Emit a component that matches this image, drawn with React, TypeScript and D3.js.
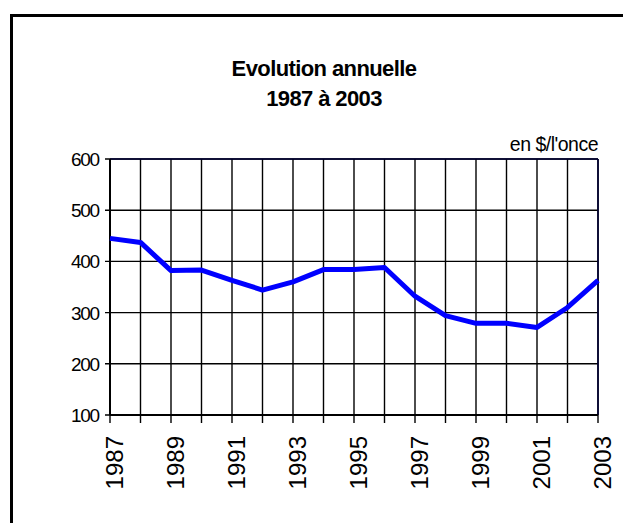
import React, { useEffect, useRef } from 'react';
import * as d3 from 'd3';

const years = [1987, 1988, 1989, 1990, 1991, 1992, 1993, 1994, 1995, 1996, 1997, 1998, 1999, 2000, 2001, 2002, 2003];
const prices = [445, 437, 382, 383, 363, 344, 360, 384, 384, 388, 332, 294, 279, 279, 271, 310, 363];
const yTicks = [100, 200, 300, 400, 500, 600];
const yearLabels = [1987, 1989, 1991, 1993, 1995, 1997, 1999, 2001, 2003];
const titleLines = ['Evolution annuelle', '1987 à 2003'];
const unitLabel = "en $/l'once";

const W = 623;
const H = 523;

const App = () => {
  const svgRef = useRef<SVGSVGElement>(null);

  useEffect(() => {
    const svg = d3.select(svgRef.current);
    svg.selectAll('*').remove();

    const left = 110;
    const right = 598;
    const top = 159;
    const bottom = 415;
    const font = 'Arial, "Liberation Sans", sans-serif';

    // outer frame (runs off the right and bottom edge)
    svg
      .append('rect')
      .attr('x', 11.5)
      .attr('y', 15.5)
      .attr('width', 700)
      .attr('height', 700)
      .attr('fill', 'none')
      .attr('stroke', '#000')
      .attr('stroke-width', 3);

    const x = d3.scaleLinear().domain([years[0], years[years.length - 1]]).range([left, right]);
    const y = d3.scaleLinear().domain([100, 600]).range([bottom, top]);

    // vertical grid
    svg
      .append('g')
      .selectAll('line')
      .data(years)
      .join('line')
      .attr('x1', (d) => x(d))
      .attr('x2', (d) => x(d))
      .attr('y1', top)
      .attr('y2', bottom + 8)
      .attr('stroke', '#000')
      .attr('stroke-width', 1.4);

    // horizontal grid
    svg
      .append('g')
      .selectAll('line')
      .data(yTicks)
      .join('line')
      .attr('x1', left - 5)
      .attr('x2', right)
      .attr('y1', (d) => y(d))
      .attr('y2', (d) => y(d))
      .attr('stroke', '#000')
      .attr('stroke-width', 1.4);

    // plot border
    svg
      .append('line')
      .attr('x1', left)
      .attr('x2', right)
      .attr('y1', top)
      .attr('y2', top)
      .attr('stroke', '#000033')
      .attr('stroke-width', 1.6);
    svg
      .append('line')
      .attr('x1', right)
      .attr('x2', right)
      .attr('y1', top)
      .attr('y2', bottom)
      .attr('stroke', '#000033')
      .attr('stroke-width', 1.6);

    // axes
    svg
      .append('line')
      .attr('x1', left)
      .attr('x2', left)
      .attr('y1', top)
      .attr('y2', bottom)
      .attr('stroke', '#000')
      .attr('stroke-width', 2);
    svg
      .append('line')
      .attr('x1', left)
      .attr('x2', right)
      .attr('y1', bottom)
      .attr('y2', bottom)
      .attr('stroke', '#000')
      .attr('stroke-width', 2.2);

    // y labels
    svg
      .append('g')
      .selectAll('text')
      .data(yTicks)
      .join('text')
      .attr('x', 99)
      .attr('y', (d) => y(d) + 7)
      .attr('text-anchor', 'end')
      .style('font-family', font)
      .style('font-size', '19px')
      .style('letter-spacing', '-1.2px')
      .text((d) => d);

    // x labels
    svg
      .append('g')
      .selectAll('text')
      .data(yearLabels)
      .join('text')
      .attr('transform', (d) => `translate(${x(d)},436) rotate(-90)`)
      .attr('y', 13)
      .attr('text-anchor', 'end')
      .style('font-family', font)
      .style('font-size', '24px')
      .text((d) => d);

    // price line
    const line = d3
      .line<number>()
      .x((d, i) => x(years[i]))
      .y((d) => y(d));
    svg
      .append('path')
      .datum(prices)
      .attr('d', line)
      .attr('fill', 'none')
      .attr('stroke', '#0000ff')
      .attr('stroke-width', 5)
      .attr('stroke-linejoin', 'round');

    // title
    svg
      .append('g')
      .selectAll('text')
      .data(titleLines)
      .join('text')
      .attr('x', 324)
      .attr('y', (d, i) => 76 + i * 30)
      .attr('text-anchor', 'middle')
      .style('font-family', font)
      .style('font-size', '22px')
      .style('font-weight', 'bold')
      .style('letter-spacing', '-0.6px')
      .text((d) => d);

    svg
      .append('text')
      .attr('x', right)
      .attr('y', 151)
      .attr('text-anchor', 'end')
      .style('font-family', font)
      .style('font-size', '19.5px')
      .style('letter-spacing', '-0.5px')
      .text(unitLabel);
  }, []);

  return (
    <svg
      ref={svgRef}
      width={W}
      height={H}
      style={{ position: 'absolute', left: 0, top: 0, background: '#fff' }}
    ></svg>
  );
};

export default App;
